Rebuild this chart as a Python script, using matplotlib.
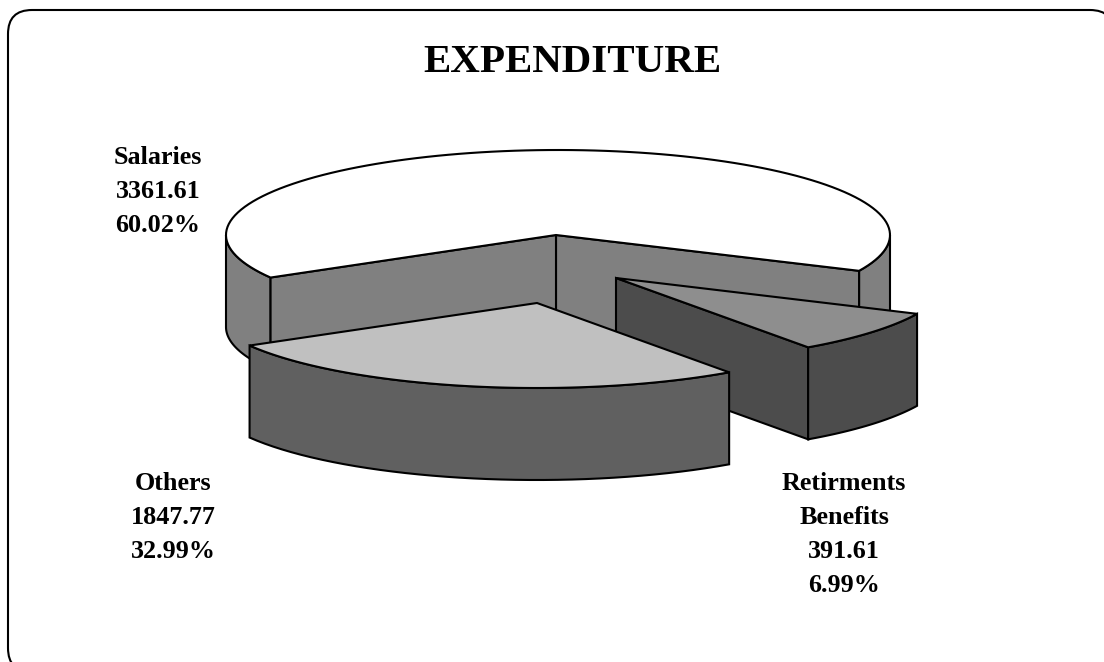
import numpy as np
import matplotlib
matplotlib.use("Agg")
import matplotlib.pyplot as plt
from matplotlib.patches import FancyBboxPatch, Polygon

categories = ["Salaries", "Others", "Retirments\nBenefits"]
values = [3361.61, 1847.77, 391.61]
percents = ["60.02%", "32.99%", "6.99%"]
value_labels = ["3361.61", "1847.77", "391.61"]

W, H = 1104, 662
A, B, DEPTH = 332.0, 85.0, 92.0
SQUASH = 1.6
START = -16.2
LW = 1.5
FONT = "Liberation Serif"

fig = plt.figure(figsize=(W / 100, H / 100), dpi=100)
ax = fig.add_axes([0, 0, 1, 1])
ax.set_xlim(0, W)
ax.set_ylim(H, 0)
ax.axis("off")

ax.add_patch(FancyBboxPatch((8, 10), 1106, 662, boxstyle="round,pad=0,rounding_size=24",
                            fc="white", ec="black", lw=1.5, zorder=0))


def warp(theta_deg):
    th = np.radians(theta_deg)
    # continuous ellipse parameter: the chart's foreshortening of true pie angles
    turns = np.round((th - np.arctan2(np.sin(th), np.cos(th))) / (2 * np.pi))
    return np.arctan2(SQUASH * np.sin(th), np.cos(th)) + turns * 2 * np.pi


def rim(center, t):
    return np.column_stack([center[0] + A * np.cos(t), center[1] - B * np.sin(t)])


def poly(pts, fc, z):
    ax.add_patch(Polygon(pts, closed=True, fc=fc, ec="black", lw=LW, joinstyle="miter", zorder=z))


def drop(pts):
    return np.asarray(pts) + [0, DEPTH]


def wall(p, q, fc, z):
    poly(np.array([p, q, q + [0, DEPTH], p + [0, DEPTH]]), fc, z)


def outer(center, t0, t1, fc, z):
    if t1 <= t0:
        return
    t = np.linspace(t0, t1, 40)
    r = rim(center, t)
    poly(np.vstack([r, drop(r)[::-1]]), fc, z)


def top(apex, center, t0, t1, fc, z):
    t = np.linspace(t0, t1, 120)
    poly(np.vstack([[apex], rim(center, t)]), fc, z)


fractions = np.array(values) / np.sum(values)
edges = START + 360 * np.concatenate([[0], np.cumsum(fractions)])
spans = [(warp(edges[i]), warp(edges[i + 1])) for i in range(3)]

# Salaries: back piece with the notch open towards the viewer
a0 = np.array([556.0, 235.0])
c0 = np.array([558.0, 235.0])
t0, t1 = spans[0]
outer(c0, t0, 0, "#808080", 2)
outer(c0, np.pi, t1, "#808080", 2)
p0, p1 = rim(c0, np.array([t0, t1]))
wall(a0, p0, "#808080", 2)
wall(a0, p1, "#808080", 2)
top(a0, c0, t0, t1, "white", 3)

# Retirments Benefits: exploded to the right
c2 = np.array([616.0, 278.0])
t0, t1 = spans[2]
p0, p1 = rim(c2, np.array([t0, t1]))
wall(c2, p0, "#4c4c4c", 4)
outer(c2, t0, t1, "#4c4c4c", 4)
top(c2, c2, t0, t1, "#8e8e8e", 5)

# Others: exploded towards the viewer
c1 = np.array([537.0, 303.0])
t0, t1 = spans[1]
outer(c1, t0, t1, "#606060", 6)
top(c1, c1, t0, t1, "#c0c0c0", 7)

ax.text(572, 72, "EXPENDITURE", fontfamily=FONT, fontweight="bold", fontsize=29.5,
        ha="center", va="baseline", color="black", zorder=10)

label_slots = [(158, 164), (173, 490), (844, 490)]
LINE = 34
for (x, y), cat, val, pct in zip(label_slots, categories, value_labels, percents):
    lines = cat.split("\n") + [val, pct]
    for i, s in enumerate(lines):
        ax.text(x, y + i * LINE, s, fontfamily=FONT, fontweight="bold", fontsize=18.8,
                ha="center", va="baseline", color="black", zorder=10)

fig.savefig("out.png", dpi=100)
